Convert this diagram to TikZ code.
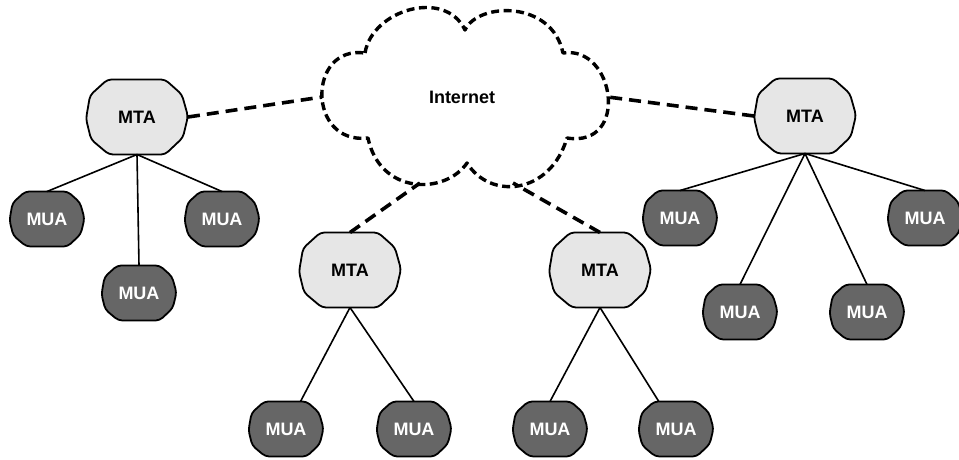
\documentclass[tikz,border=0pt]{standalone}
\usepackage{fontspec}
\setmainfont{Liberation Sans}
\definecolor{mtafill}{RGB}{230,230,230}
\definecolor{muafill}{RGB}{102,102,102}

% A blob: a ten-sided outline with softened corners, using the
% anchors and border of a plain rectangle.
\makeatletter
\pgfdeclareshape{blob}{%
  \inheritsavedanchors[from=rectangle]
  \inheritanchorborder[from=rectangle]
  \inheritanchor[from=rectangle]{center}
  \inheritanchor[from=rectangle]{mid}
  \inheritanchor[from=rectangle]{base}
  \inheritanchor[from=rectangle]{text}
  \inheritanchor[from=rectangle]{north}
  \inheritanchor[from=rectangle]{south}
  \inheritanchor[from=rectangle]{east}
  \inheritanchor[from=rectangle]{west}
  \inheritanchor[from=rectangle]{north east}
  \inheritanchor[from=rectangle]{north west}
  \inheritanchor[from=rectangle]{south east}
  \inheritanchor[from=rectangle]{south west}
  \backgroundpath{%
    \southwest \pgf@xa=\pgf@x \pgf@ya=\pgf@y
    \northeast \pgf@xb=\pgf@x \pgf@yb=\pgf@y
    \pgf@xc=.5\pgf@xa \advance\pgf@xc by .5\pgf@xb
    \pgf@yc=.5\pgf@ya \advance\pgf@yc by .5\pgf@yb
    \edef\blobcx{\the\pgf@xc}\edef\blobcy{\the\pgf@yc}%
    \advance\pgf@xb by -\pgf@xc \advance\pgf@yb by -\pgf@yc
    \edef\blobw{\the\pgf@xb}\edef\blobh{\the\pgf@yb}%
    \def\blobpt##1##2{\pgfpoint{\blobcx+##1*\blobw}{\blobcy+##2*\blobh}}%
    \pgfsetcornersarced{\pgfpoint{4pt}{4pt}}%
    \pgfpathmoveto{\pgfpointlineattime{0.5}{\blobpt{-0.58}{1}}{\blobpt{0.55}{1}}}%
    \pgfpathlineto{\blobpt{0.55}{1}}%
    \pgfpathlineto{\blobpt{0.88}{0.6}}%
    \pgfpathlineto{\blobpt{1}{0.02}}%
    \pgfpathlineto{\blobpt{0.9}{-0.55}}%
    \pgfpathlineto{\blobpt{0.55}{-1}}%
    \pgfpathlineto{\blobpt{-0.55}{-1}}%
    \pgfpathlineto{\blobpt{-0.9}{-0.6}}%
    \pgfpathlineto{\blobpt{-1}{-0.05}}%
    \pgfpathlineto{\blobpt{-0.92}{0.58}}%
    \pgfpathlineto{\blobpt{-0.58}{1}}%
    \pgfpathclose
  }%
}
\makeatother

\tikzset{
  blobnode/.style={shape=blob, inner sep=0pt, outer sep=0pt, draw=black,
    line width=1.8pt, font=\fontsize{18}{18}\selectfont\bfseries},
  mta/.style={blobnode, fill=mtafill, text=black, minimum width=102pt, minimum height=75pt},
  mua/.style={blobnode, fill=muafill, text=white, minimum width=75pt, minimum height=55pt},
  link/.style={line width=1.6pt},
  wan/.style={line width=3.6pt, dash pattern=on 12pt off 7pt},
  cloudline/.style={line width=3.4pt, dash pattern=on 8pt off 4.5pt, line join=round}
}
\begin{document}
\begin{tikzpicture}[x=1pt, y=-1pt]
\useasboundingbox (0,0) rectangle (959,459);

% the Internet cloud, six lobes meeting in sharp dips
\draw[cloudline, fill=white]
  (365,53) .. controls (372,10) and (445,-12) .. (465,30)
  .. controls (478,2) and (552,0) .. (563,53)
  .. controls (615,45) and (630,148) .. (567,138)
  .. controls (550,195) and (490,200) .. (467,163)
  .. controls (445,195) and (380,195) .. (368,138)
  .. controls (307,145) and (307,45) .. (365,53) -- cycle;
\node[font=\fontsize{18}{18}\selectfont\bfseries] (net) at (462,97) {Internet};
\coordinate (netW) at (322,97);
\coordinate (netE) at (608,97);
\coordinate (netSW) at (420,183);
\coordinate (netSE) at (513,183);

% mail transfer agents
\node[mta] (m1) at (137,117) {MTA};
\node[mta] (m2) at (350,270) {MTA};
\node[mta] (m3) at (600,270) {MTA};
\node[mta] (m4) at (805,116) {MTA};

% mail user agents
\node[mua] (u1) at (47,219) {MUA};
\node[mua] (u2) at (222,219) {MUA};
\node[mua] (u3) at (139,293) {MUA};
\node[mua] (u4) at (286,429) {MUA};
\node[mua] (u5) at (414,429) {MUA};
\node[mua] (u6) at (550,429) {MUA};
\node[mua] (u7) at (676,429) {MUA};
\node[mua] (u8) at (680,218) {MUA};
\node[mua] (u9) at (925,218) {MUA};
\node[mua] (u10) at (740,312) {MUA};
\node[mua] (u11) at (867,312) {MUA};

% dashed links into the Internet
\draw[wan] (m1.east) -- (netW);
\draw[wan] (m4.west) -- (netE);
\draw[wan] (m2.north) -- (netSW);
\draw[wan] (m3.north) -- (netSE);

% local links from each MTA to its user agents
\draw[link] (m1.south) -- (u1.north);
\draw[link] (m1.south) -- (u2.north);
\draw[link] (m1.south) -- (u3.north);
\draw[link] (m2.south) -- (u4);
\draw[link] (m2.south) -- (u5.north);
\draw[link] (m3.south) -- (u6.north);
\draw[link] (m3.south) -- (u7);
\draw[link] (m4.south) -- (u8.north);
\draw[link] (m4.south) -- (u9.north);
\draw[link] (m4.south) -- (u10.north);
\draw[link] (m4.south) -- (u11.north);
\end{tikzpicture}
\end{document}
